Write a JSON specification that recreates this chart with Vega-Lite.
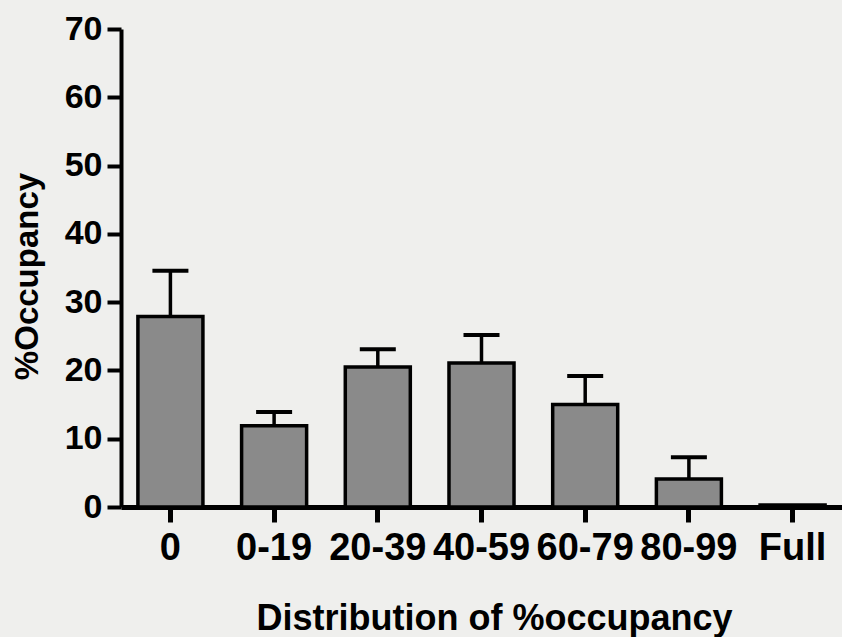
{
  "$schema": "https://vega.github.io/schema/vega-lite/v6.json",
  "width": 721,
  "height": 478,
  "autosize": "none",
  "padding": {"left": 121, "top": 29, "right": 0, "bottom": 130},
  "background": "#efefed",
  "config": {
    "view": {"stroke": null},
    "font": "Liberation Sans",
    "axis": {
      "grid": false,
      "domainColor": "black",
      "tickColor": "black",
      "labelColor": "black",
      "titleColor": "black",
      "labelFont": "Liberation Sans",
      "titleFont": "Liberation Sans",
      "labelFontWeight": "bold",
      "titleFontWeight": "bold"
    }
  },
  "data": {
    "values": [
      {"category": "0", "value": 27.9, "err": 34.6},
      {"category": "0-19", "value": 11.9, "err": 13.9},
      {"category": "20-39", "value": 20.5, "err": 23.1},
      {"category": "40-59", "value": 21.1, "err": 25.2},
      {"category": "60-79", "value": 15.0, "err": 19.2},
      {"category": "80-99", "value": 4.1, "err": 7.3},
      {"category": "Full", "value": 0.3, "err": null}
    ]
  },
  "encoding": {
    "x": {
      "field": "category",
      "type": "nominal",
      "sort": null,
      "scale": {"paddingInner": 0.373, "paddingOuter": 0.163},
      "axis": {
        "title": "Distribution of %occupancy",
        "labelAngle": 0,
        "labelFontSize": 38,
        "labelPadding": 7,
        "labelBaseline": "top",
        "tickSize": 15,
        "tickWidth": 5,
        "domainWidth": 5,
        "titleFontSize": 36,
        "titleX": 373,
        "titleY": 122,
        "titleAnchor": null,
        "titleAlign": "center",
        "titleBaseline": "alphabetic"
      }
    }
  },
  "layer": [
    {
      "mark": {"type": "bar", "fill": "#8a8a8a", "stroke": "black", "strokeWidth": 3.5},
      "encoding": {
        "y": {
          "field": "value",
          "type": "quantitative",
          "scale": {"domain": [0, 70], "nice": false},
          "axis": {
            "title": "%Occupancy",
            "values": [0, 10, 20, 30, 40, 50, 60, 70],
            "labelFontSize": 34,
            "labelPadding": 5,
            "tickSize": 14,
            "tickWidth": 4,
            "domainWidth": 4,
            "titleFontSize": 33,
            "titleAngle": -90,
            "titleX": -84,
            "titleY": 247,
            "titleAlign": "center",
            "titleBaseline": "alphabetic"
          }
        }
      }
    },
    {
      "transform": [{"filter": "datum.err != null"}],
      "mark": {"type": "rule", "color": "black", "strokeWidth": 3.5},
      "encoding": {
        "y": {"field": "value", "type": "quantitative"},
        "y2": {"field": "err"}
      }
    },
    {
      "transform": [{"filter": "datum.err != null"}],
      "mark": {"type": "tick", "color": "black", "size": 36, "thickness": 4, "opacity": 1},
      "encoding": {
        "y": {"field": "err", "type": "quantitative"}
      }
    }
  ]
}
